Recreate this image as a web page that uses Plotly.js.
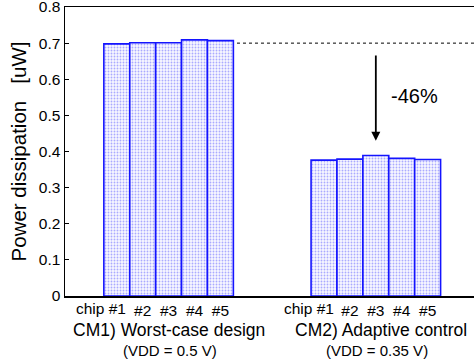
<!DOCTYPE html>
<html><head><meta charset="utf-8">
<script src="https://cdn.plot.ly/plotly-3.0.1.min.js"></script>
<style>html,body{margin:0;padding:0;background:#fff}</style>
</head><body>
<div id="chart" style="width:474px;height:364px"></div>
<script>
const chipLabels = ["#1", "#2", "#3", "#4", "#5"];
const chipPrefix = "chip ";
const groupNames = ["CM1) Worst-case design", "CM2) Adaptive control"];
const groupVdd = ["(VDD = 0.5 V)", "(VDD = 0.35 V)"];
const worstCase = [0.698, 0.701, 0.701, 0.709, 0.707];
const adaptive = [0.376, 0.379, 0.389, 0.381, 0.378];
const yTicks = [0, 0.1, 0.2, 0.3, 0.4, 0.5, 0.6, 0.7, 0.8];
const yTickText = ["0", "0.1", "0.2", "0.3", "0.4", "0.5", "0.6", "0.7", "0.8"];
const refLevel = 0.70;
const arrowTop = 0.67, arrowBottom = 0.43;
const reductionText = "-46%";

const pos1 = [1, 2, 3, 4, 5];
const pos2 = [9, 10, 11, 12, 13];

const barStyle = {
  color: "white",
  line: {color: "rgb(20,20,255)", width: 1.6},
  pattern: {shape: ".", fgcolor: "rgb(170,170,255)", bgcolor: "rgb(248,248,255)", size: 3, solidity: 0.3}
};
const traces = [
  {type: "bar", x: pos1, y: worstCase, width: 1, marker: barStyle, hoverinfo: "none"},
  {type: "bar", x: pos2, y: adaptive, width: 1, marker: barStyle, hoverinfo: "none"}
];
const F = "Liberation Sans, Arial, sans-serif";
const tickTextAll = [""].concat(chipLabels.slice(1), [""], chipLabels.slice(1));
const annotations = [
  {x: 1.45, y: -0.042, xref: "x", yref: "paper", text: chipPrefix + chipLabels[0], showarrow: false, xanchor: "right", yanchor: "middle", font: {family: F, size: 15.5, color: "#000"}},
  {x: 9.45, y: -0.042, xref: "x", yref: "paper", text: chipPrefix + chipLabels[0], showarrow: false, xanchor: "right", yanchor: "middle", font: {family: F, size: 15.5, color: "#000"}},
  {x: 3, y: -0.118, xref: "x", yref: "paper", text: groupNames[0], showarrow: false, xanchor: "center", yanchor: "middle", font: {family: F, size: 17.5, color: "#000"}},
  {x: 11.2, y: -0.118, xref: "x", yref: "paper", text: groupNames[1], showarrow: false, xanchor: "center", yanchor: "middle", font: {family: F, size: 17.5, color: "#000"}},
  {x: 3.05, y: -0.19, xref: "x", yref: "paper", text: groupVdd[0], showarrow: false, xanchor: "center", yanchor: "middle", font: {family: F, size: 15, color: "#000"}},
  {x: 11.05, y: -0.19, xref: "x", yref: "paper", text: groupVdd[1], showarrow: false, xanchor: "center", yanchor: "middle", font: {family: F, size: 15, color: "#000"}},
  {x: 11, y: arrowBottom, ax: 11, ay: arrowTop, xref: "x", yref: "y", axref: "x", ayref: "y", text: "", showarrow: true, arrowhead: 2, arrowsize: 1, arrowwidth: 1.8, arrowcolor: "#000"},
  {x: 11.5, y: (arrowTop + arrowBottom) / 2 + 0.005, xref: "x", yref: "y", text: reductionText, showarrow: false, xanchor: "left", yanchor: "middle", font: {family: F, size: 20, color: "#000"}}
];
const layout = {
  width: 474, height: 364,
  margin: {l: 65, r: 0, t: 7, b: 68},
  paper_bgcolor: "white", plot_bgcolor: "white",
  showlegend: false, barmode: "overlay",
  font: {family: F, color: "#000"},
  xaxis: {
    range: [-1.0, 14.79], tickvals: pos1.concat(pos2), ticktext: tickTextAll,
    showgrid: false, zeroline: false, showline: true, linecolor: "#000", linewidth: 1.5, mirror: true,
    ticks: "", tickfont: {family: F, size: 15.5, color: "#000"}, fixedrange: true
  },
  yaxis: {
    range: [0, 0.8], tickvals: yTicks, ticktext: yTickText, ticklabeloverflow: "allow",
    showgrid: false, zeroline: false, showline: true, linecolor: "#000", linewidth: 1.5,
    ticks: "inside", ticklen: 4, tickcolor: "#000",
    tickfont: {family: F, size: 15.5, color: "#000"},
    title: {text: "Power dissipation   [uW]", font: {family: F, size: 20.5, color: "#000"}, standoff: 6},
    fixedrange: true
  },
  shapes: [
    {type: "line", xref: "x", yref: "y", x0: 5.64, x1: 14.79, y0: refLevel, y1: refLevel, line: {color: "#000", width: 1, dash: "dot"}}
  ],
  annotations: annotations
};
Plotly.newPlot("chart", traces, layout, {staticPlot: true});
</script>
</body></html>
